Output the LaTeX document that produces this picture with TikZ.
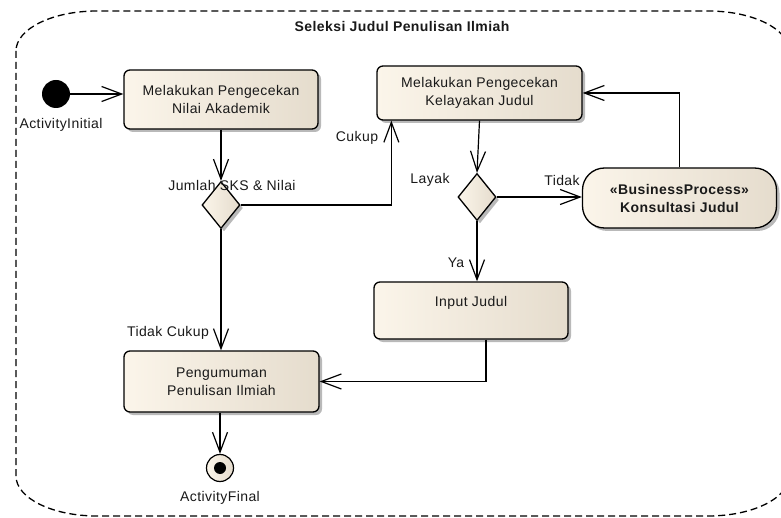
\documentclass[tikz,border=0pt]{standalone}
\usepackage{fontspec}
\setmainfont[LetterSpace=3]{Liberation Sans}
\usetikzlibrary{arrows.meta,shapes.geometric,shadows}

\definecolor{creamL}{RGB}{251,245,234}
\definecolor{creamR}{RGB}{229,220,205}
\definecolor{shadegray}{RGB}{185,185,185}
\definecolor{ink}{RGB}{25,25,25}

\tikzset{
  every node/.style={font=\fontsize{14}{18}\selectfont, text=ink},
  boxshadow/.style={drop shadow={shadow xshift=3pt, shadow yshift=-3pt, fill=shadegray, opacity=1}},
  actbox/.style={draw=black, line width=1.3pt, rounded corners=6pt,
    left color=creamL, right color=creamR, align=center, inner sep=0pt,
    minimum width=194pt, boxshadow},
  procbox/.style={actbox, rounded corners=22pt, font=\fontsize{14}{18}\selectfont\bfseries},
  decision/.style={diamond, draw=black, line width=1.3pt, inner sep=0pt,
    minimum width=38pt, minimum height=47pt, aspect=0.81,
    left color=creamL, right color=creamR, boxshadow},
  startdot/.style={circle, fill=black, inner sep=0pt, minimum size=28pt},
  enddot/.style={circle, draw=black, line width=1.2pt, inner sep=0pt, minimum size=27pt,
    left color=creamL, right color=creamR,
    path picture={\fill[black] (path picture bounding box.center) circle (6pt);}},
  flow/.style={draw=black, line width=1.2pt,
    -{Straight Barb[length=20pt, width=15pt, line width=1.2pt]}},
  framepath/.style={draw=black, line width=1.3pt, dash pattern=on 7pt off 4pt},
  lbl/.style={inner sep=0pt},
}

\begin{document}
\begin{tikzpicture}[x=1pt, y=-1pt]
  \useasboundingbox (0,0) rectangle (781,518);
  \clip (0,0) rectangle (781,518);

  % activity frame with elliptical corners; its right side runs past the page edge
  \draw[framepath] (16,51) -- (16,476)
    arc[start angle=180, end angle=90, x radius=81, y radius=40] -- (708,516)
    arc[start angle=90, end angle=0, x radius=81, y radius=40] -- (789,51)
    arc[start angle=0, end angle=-90, x radius=81, y radius=40] -- (97,11)
    arc[start angle=-90, end angle=-180, x radius=81, y radius=40] -- cycle;
  \node[lbl, font=\fontsize{14}{18}\selectfont\bfseries] (title) at (402,27) {Seleksi Judul Penulisan Ilmiah};

  % nodes
  \node[startdot] (init) at (56,94) {};
  \node[lbl] (initlbl) at (61,125) {ActivityInitial};

  \node[actbox, minimum height=59pt] (nilai) at (221,99.5) {Melakukan Pengecekan\\Nilai Akademik};
  \node[decision] (d1) at (221,205) {};
  \node[lbl] (d1lbl) at (232,185) {Jumlah SKS \& Nilai};

  \node[actbox, minimum width=205pt, minimum height=54pt] (layak) at (479.5,93) {Melakukan Pengecekan\\Kelayakan Judul};
  \node[decision] (d2) at (477,197) {};
  \node[lbl] (layaklbl) at (430,180) {Layak};

  \node[procbox, minimum height=60pt] (konsul) at (679.5,198) {«BusinessProcess»\\Konsultasi Judul};

  \node[actbox, minimum height=57pt] (input) at (471,310.5) {\raisebox{3.5pt}[0pt][0pt]{Input Judul}};

  \node[actbox, minimum width=195pt, minimum height=61pt] (umum) at (221.5,381.5) {Pengumuman\\Penulisan Ilmiah};

  \node[enddot] (fin) at (220,468) {};
  \node[lbl] (finlbl) at (220,498) {ActivityFinal};

  % guard labels
  \node[lbl] (cukup) at (357,138) {Cukup};
  \node[lbl] (tidak) at (562,180) {Tidak};
  \node[lbl] (ya) at (456,263) {Ya};
  \node[lbl] (tcukup) at (168,333) {Tidak Cukup};

  % control flows
  \draw[flow] (init) -- (nilai.west |- init);
  \draw[flow] (nilai.south -| d1.north) -- (d1.north);
  \draw[flow] (d1.east) -| ([xshift=15pt]layak.south west);
  \draw[flow] (d1.south) -- (d1.south |- umum.north);
  \draw[flow] (layak.south) -- (d2.north);
  \draw[flow] (d2.east) -- (d2.east -| konsul.west);
  \draw[flow] (konsul.north) |- (layak.east);
  \draw[flow] (d2.south) -- (d2.south |- input.north);
  \draw[flow] ([xshift=15pt]input.south) |- (umum.east);
  \draw[flow] (fin.north |- umum.south) -- (fin.north);
\end{tikzpicture}
\end{document}
